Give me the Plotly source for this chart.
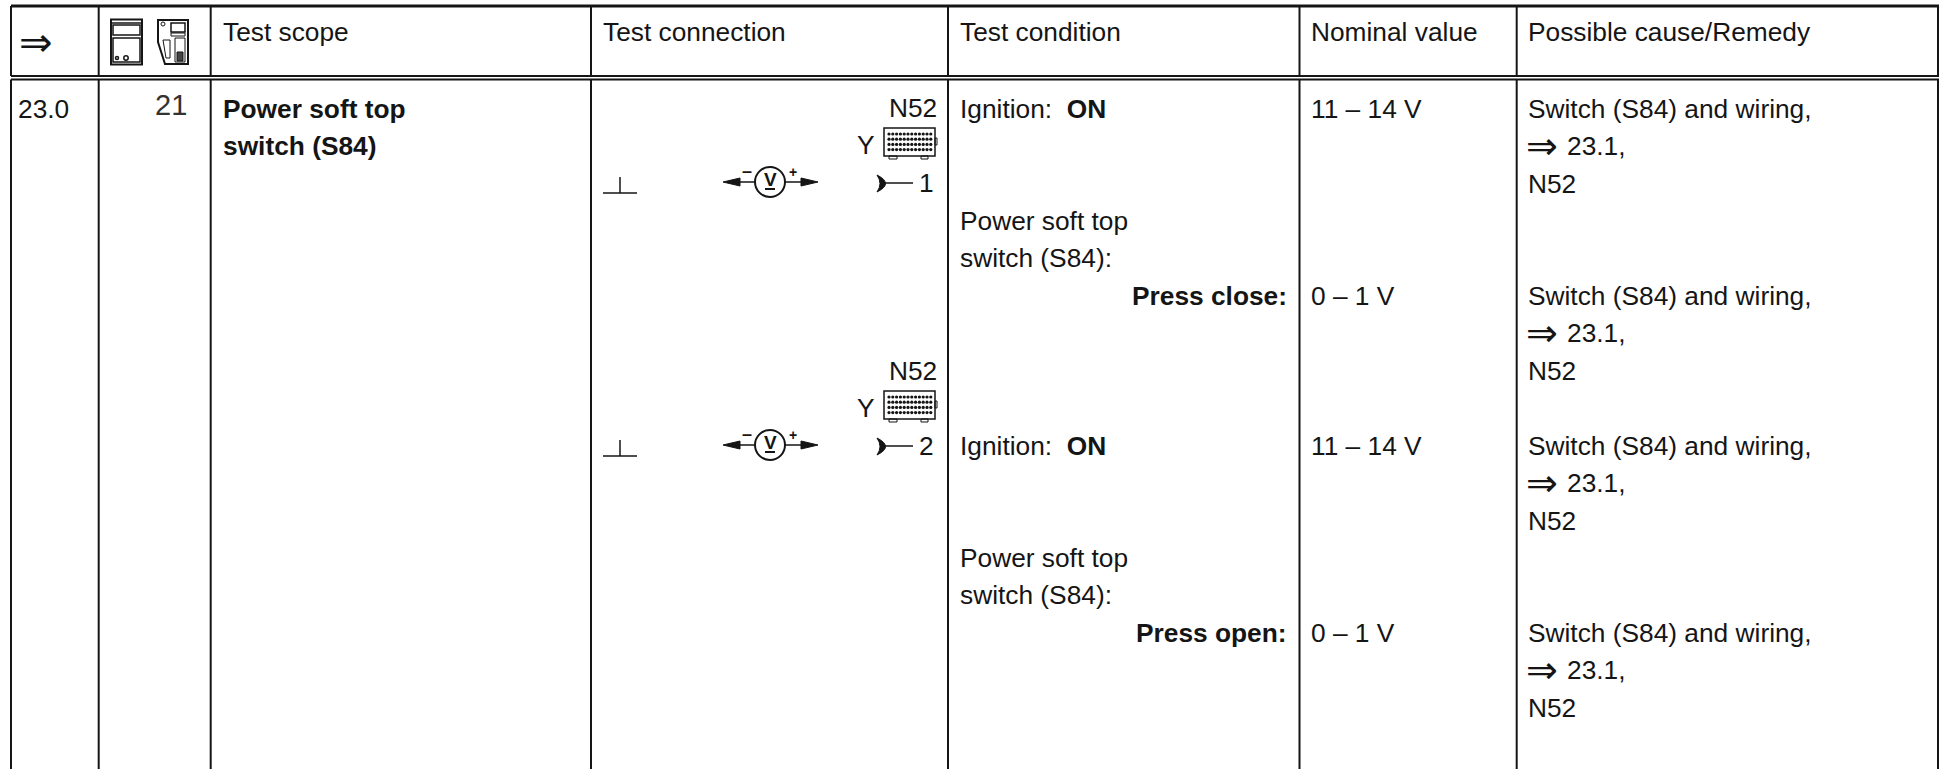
import plotly.graph_objects as go

# ---- table content ----
header_labels = ["Test scope", "Test connection", "Test condition", "Nominal value", "Possible cause/Remedy"]
row_number = "23.0"
display_code = "21"
scope_lines = ["Power soft top", "switch (S84)"]
component = "N52"
connector = "Y"
pins = ["1", "2"]
ignition = "Ignition:  <b>ON</b>"
switch_lines = ["Power soft top", "switch (S84):"]
press_labels = ["Press close:", "Press open:"]
nominal_on = "11 – 14 V"
nominal_off = "0 – 1 V"
remedy_lines = ["Switch (S84) and wiring,", "⇒", "23.1,", "N52"]

# ---- layout constants ----
W, H = 1942, 769
FONT = "Liberation Sans"
FS = 26.3
INK = "#151515"
col_x = [11, 98.7, 210.7, 591, 948, 1299.5, 1516.7, 1938]
shapes, ann = [], []

def line(x0, y0, x1, y1, w=2, c=INK):
    shapes.append(dict(type="line", x0=x0, y0=y0, x1=x1, y1=y1, line=dict(color=c, width=w)))
def rect(x0, y0, x1, y1, w=1.5, fill=None, c=INK):
    shapes.append(dict(type="rect", x0=x0, y0=y0, x1=x1, y1=y1, line=dict(color=c, width=w), fillcolor=fill or "rgba(0,0,0,0)"))
def circle(cx, cy, r, w=1.5, fill=None):
    shapes.append(dict(type="circle", x0=cx-r, y0=cy-r, x1=cx+r, y1=cy+r, line=dict(color=INK, width=w), fillcolor=fill or "rgba(0,0,0,0)"))
def path(d, w=1.5, fill=None):
    shapes.append(dict(type="path", path=d, line=dict(color=INK, width=w), fillcolor=fill or "rgba(0,0,0,0)"))
def text(x, y, s, anchor="left", size=FS, font=FONT, color=INK):
    ann.append(dict(x=x, y=y, text=s, xanchor=anchor, yanchor="middle", showarrow=False,
                    font=dict(family=font, size=size, color=color), xref="x", yref="y",
                    borderpad=0, borderwidth=0))

# grid
line(col_x[0], 6, col_x[-1] + 1, 6, 3)
line(col_x[0], 76, col_x[-1] + 1, 76, 2)
line(col_x[0], 79.5, col_x[-1] + 1, 79.5, 2)
for x in col_x:
    line(x, 6, x, 76, 2)
    line(x, 79.5, x, H, 2)

# header
text(19, 42, "⇒", size=40, font="DejaVu Sans")
text_x = [col_x[2] + 12, col_x[3] + 12, col_x[4] + 12, col_x[5] + 11.5, col_x[6] + 11.3]
for x, s in zip(text_x, header_labels):
    text(x, 32, s)

# instrument icons
rect(111, 19.5, 142, 64.5, 2)
rect(113, 25, 140, 35)
rect(113, 38, 140, 62)
line(112, 23, 141, 23, 1.5)
circle(117, 58, 1.5, 1.5)
circle(126, 58, 2.2, 1.5)
path("M158,20 L188,20 L188,64 L165,64 L158,42 Z", 2)
rect(171, 23, 185, 32)
rect(171, 33, 185, 36, 1)
rect(175, 38, 185, 62, 1)
rect(177, 52, 183, 61, 1, "#444")
path("M163,40 L170,40 L170,58 L166,58 Z", 1)
circle(163, 24, 2, 1)

# row
text(18, 109, row_number)
text(187, 105, display_code, "right", 29, FONT, "#333")
for i, s in enumerate(scope_lines):
    text(text_x[0], 109 + i * 37, f"<b>{s}</b>")

dot_x, dot_y = [], []
def meter_group(dy, pin):
    text(937, 108 + dy, component, "right")
    text(875, 145 + dy, connector, "right")
    rect(884, 128 + dy, 935, 156 + dy, 1.5)
    rect(935, 138 + dy, 937, 145 + dy, 1)
    rect(889, 156 + dy, 897, 159 + dy, 1)
    rect(921, 156 + dy, 928, 159 + dy, 1)
    for r in range(4):
        for c in range(12):
            dot_x.append(889 + c * 3.8)
            dot_y.append(134 + r * 5.2 + dy)
    text(934, 183 + dy, pin, "right")
    path(f"M877,{175+dy} Q894,{183.5+dy} 877,{192+dy} Q883,{183.5+dy} 877,{175+dy} Z", 1, INK)
    line(884, 183 + dy, 913, 183 + dy, 1.5)
    # voltmeter
    circle(770, 182 + dy, 15, 2)
    line(735, 182 + dy, 755, 182 + dy, 1.5)
    line(785, 182 + dy, 806, 182 + dy, 1.5)
    path(f"M723,{182+dy} L740,{178+dy} L740,{186+dy} Z", 1, INK)
    path(f"M818,{182+dy} L801,{178+dy} L801,{186+dy} Z", 1, INK)
    text(747, 171 + dy, "<b>–</b>", "center", 18)
    text(793, 172 + dy, "<b>+</b>", "center", 14)
    text(770, 179 + dy, "<b>V</b>", "center", 19)
    line(765, 189 + dy, 775, 189 + dy, 2)
    # ground
    line(603, 193 + dy, 637, 193 + dy, 1.5)
    line(620, 177 + dy, 620, 193 + dy, 1.5)

meter_group(0, pins[0])
meter_group(263, pins[1])

LH = 37.3
def remedy(y0):
    x = text_x[4]
    text(x, y0, remedy_lines[0])
    text(x - 2, y0 + LH, remedy_lines[1], size=38, font="DejaVu Sans")
    text(x + 39, y0 + LH, remedy_lines[2])
    text(x, y0 + 2 * LH, remedy_lines[3])

for y0, press in zip([109, 446], press_labels):
    y1 = y0 + 187
    text(text_x[2], y0, ignition)
    text(text_x[2], y0 + 112, switch_lines[0])
    text(text_x[2], y0 + 149, switch_lines[1])
    text(col_x[5] - 13, y1, f"<b>{press}</b>", "right")
    text(text_x[3], y0, nominal_on)
    text(text_x[3], y1, nominal_off)
    remedy(y0)
    remedy(y1)

fig = go.Figure()
fig.add_trace(go.Scatter(x=dot_x, y=dot_y, mode="markers", hoverinfo="skip", showlegend=False,
                         marker=dict(size=3.2, color=INK, line=dict(width=0))))
fig.update_layout(
    width=W, height=H, margin=dict(l=0, r=0, t=0, b=0), paper_bgcolor="white", plot_bgcolor="white",
    xaxis=dict(range=[0, W], visible=False, fixedrange=True),
    yaxis=dict(range=[H, 0], visible=False, fixedrange=True),
    shapes=shapes, annotations=ann, showlegend=False,
)
fig.write_html("out.html", config={"displayModeBar": False},
               post_script="document.body.style.margin='0';document.documentElement.style.overflow='hidden';")
